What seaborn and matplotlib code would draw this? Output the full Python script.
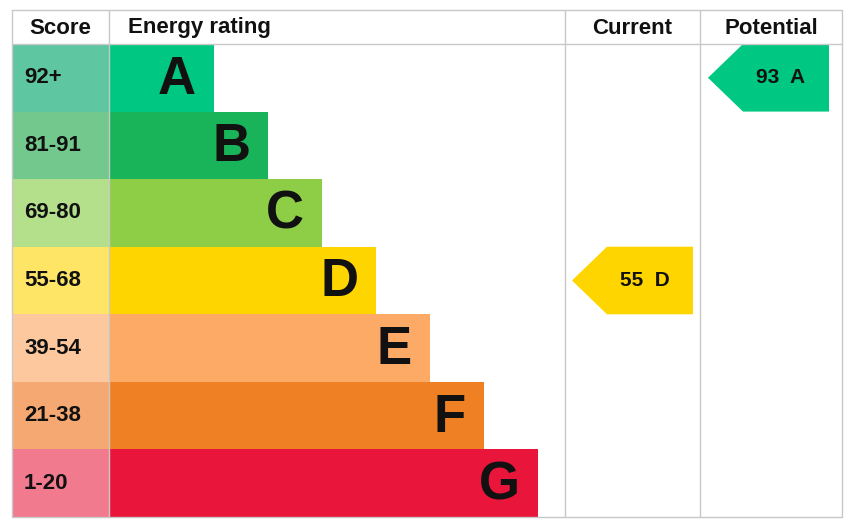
import matplotlib
matplotlib.use("Agg")
import matplotlib.pyplot as plt
import seaborn as sns
from matplotlib.patches import Polygon, Rectangle

bands = ["A", "B", "C", "D", "E", "F", "G"]
scores = ["92+", "81-91", "69-80", "55-68", "39-54", "21-38", "1-20"]
bar_colors = ["#00c781", "#19b459", "#8dce46", "#ffd500", "#fcaa65", "#ef8023", "#e9153b"]
cell_colors = ["#5fc6a2", "#73c98d", "#b4e08c", "#ffe566", "#fdc89e", "#f5a872", "#f27a8e"]
headers = ["Score", "Energy rating", "Current", "Potential"]
current_value, current_band = 55, "D"
potential_value, potential_band = 93, "A"

sns.set_style("white")
plt.rcParams['font.family'] = ['Liberation Sans', 'DejaVu Sans']
fig = plt.figure(figsize=(8.55, 5.3), dpi=100)
ax = fig.add_axes([0, 0, 1, 1])
ax.set_xlim(0, 855); ax.set_ylim(530, 0); ax.axis("off")

L, R, T, B = 12, 842, 10, 517
HB = 44
cols = [12, 109, 565, 700, 842]
rh = (B - HB) / len(bands)
grid = "#c8c8c8"

for i, (b, s) in enumerate(zip(bands, scores)):
    y0 = HB + i * rh
    ax.add_patch(Rectangle((cols[0], y0), cols[1] - cols[0], rh, color=cell_colors[i], lw=0))
    w = 105 + 54 * i
    ax.barh(y0 + rh / 2, w, height=rh, left=cols[1], color=bar_colors[i], lw=0)
    ax.text(24, y0 + rh / 2, s, fontsize=16, fontweight="bold", va="center", ha="left", color="#111")
    ax.text(cols[1] + w - 18, y0 + rh / 2 + 2, b, fontsize=38, fontweight="bold", va="center", ha="right", color="#111")

def arrow(x0, x1, band, value):
    i = bands.index(band)
    y0 = HB + i * rh; y1 = y0 + rh; yc = (y0 + y1) / 2
    ax.add_patch(Polygon([(x0, yc), (x0 + 35, y0), (x1, y0), (x1, y1), (x0 + 35, y1)],
                         closed=True, color=bar_colors[i], lw=0))
    ax.text((x0 + x1) / 2 + 12, yc, f"{value}  {band}", fontsize=15, fontweight="bold",
            va="center", ha="center", color="#111")

arrow(572, 693, current_band, current_value)
arrow(708, 829, potential_band, potential_value)

for x in cols:
    ax.plot([x, x], [T, B], color=grid, lw=1)
for y in [T, HB, B]:
    ax.plot([L, R], [y, y], color=grid, lw=1)

hx = [(cols[0] + cols[1]) / 2, 128, (cols[2] + cols[3]) / 2, (cols[3] + cols[4]) / 2]
ha = ["center", "left", "center", "center"]
for t, x, h in zip(headers, hx, ha):
    ax.text(x, (T + HB) / 2 + 1, t, fontsize=16, fontweight="bold", va="center", ha=h, color="#111")

fig.savefig("out.png", dpi=100)
